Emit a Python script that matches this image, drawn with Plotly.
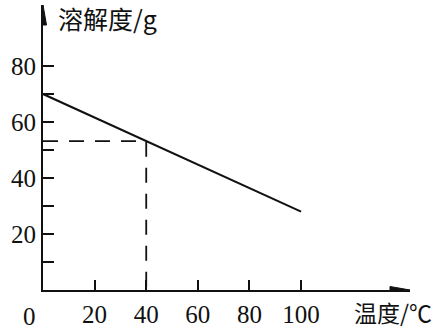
import plotly.graph_objects as go

# Data
temperature = [0, 100]          # ℃
solubility = [70, 28]           # g
mark_t = 40
mark_s = 53.2
x_ticks = [20, 40, 60, 80, 100]
x_tick_labels = ["20", "40", "60", "80", "100"]
y_ticks = [10, 20, 30, 40, 50, 60, 70, 80]
y_tick_labels = ["", "20", "", "40", "", "60", "", "80"]

XMAX = 142.2
YMAX = 101.8
PX_X = 367 / XMAX
PX_Y = 285 / YMAX

num_font = dict(family="Liberation Serif, Times New Roman, serif", size=25, color="#111")
cjk_font = dict(family="Noto Sans CJK SC, sans-serif", size=25, color="#111")
cjk_font_x = dict(family="Noto Sans CJK SC, sans-serif", size=23, color="#111")

fig = go.Figure()
fig.add_trace(go.Scatter(x=temperature, y=solubility, mode="lines",
                         line=dict(color="#111", width=2), showlegend=False,
                         hoverinfo="skip"))
fig.add_trace(go.Scatter(x=[0, mark_t, mark_t], y=[mark_s, mark_s, 0], mode="lines",
                         line=dict(color="#111", width=1.8, dash="15px,11px"),
                         showlegend=False, hoverinfo="skip"))

fig.update_xaxes(range=[0, XMAX], showgrid=False, zeroline=False, automargin=False,
                 showline=True, linecolor="#111", linewidth=2,
                 ticks="inside", ticklen=10, tickwidth=1.5, tickcolor="#111",
                 tickvals=x_ticks, ticktext=x_tick_labels, tickfont=num_font,
                 ticklabelstandoff=1)
fig.update_yaxes(range=[0, YMAX], showgrid=False, zeroline=False, automargin=False,
                 showline=True, linecolor="#111", linewidth=2,
                 ticks="inside", ticklen=11, tickwidth=1.5, tickcolor="#111",
                 tickvals=y_ticks, ticktext=y_tick_labels, tickfont=num_font,
                 ticklabelstandoff=0)

# arrowheads
ah_len_x = 20 / PX_X
ah_w_y = 3.5 / PX_Y
fig.add_shape(type="path", xref="x", yref="y",
              path=f"M {XMAX},0 L {XMAX - ah_len_x},{ah_w_y} L {XMAX - ah_len_x},{-ah_w_y} Z",
              fillcolor="#111", line=dict(color="#111", width=1))
ah_len_y = 20 / PX_Y
ah_w_x = 3.5 / PX_X
fig.add_shape(type="path", xref="x", yref="y",
              path=f"M 0,{YMAX} L {ah_w_x},{YMAX - ah_len_y} L {-ah_w_x},{YMAX - ah_len_y} Z",
              fillcolor="#111", line=dict(color="#111", width=1))

# "0" origin label
fig.add_annotation(x=-0.038, y=-0.092, xref="paper", yref="paper", text="0",
                   showarrow=False, font=num_font, xanchor="center", yanchor="middle")

fig.add_annotation(x=1.064, y=-0.077, xref="paper", yref="paper", text="温度/℃",
                   showarrow=False, font=cjk_font_x, xanchor="right", yanchor="middle",
                   borderpad=0)
fig.add_annotation(x=0.036, y=0.955, xref="paper", yref="paper", text="溶解度/g",
                   showarrow=False, font=cjk_font, xanchor="left", yanchor="middle")

fig.update_layout(width=436, height=330, margin=dict(l=43, r=26, t=5, b=40),
                  plot_bgcolor="white", paper_bgcolor="white")
fig.write_html("out.html")
